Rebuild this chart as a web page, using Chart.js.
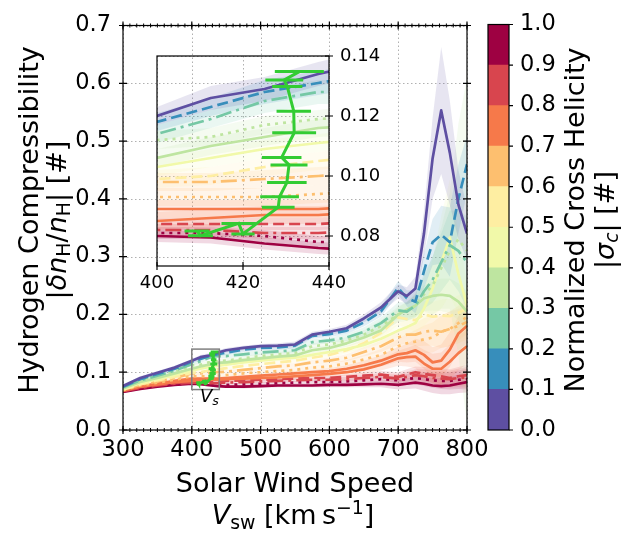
<!DOCTYPE html>
<html>
<head>
<meta charset="utf-8">
<script src="https://cdn.jsdelivr.net/npm/chart.js@4.4.0/dist/chart.umd.min.js"></script>
<style>
  body { margin: 0; background: #fff; font-family: "DejaVu Sans", sans-serif; }
  #wrap { position: relative; width: 623px; height: 535px; overflow: hidden; }
  canvas { position: absolute; left: 0; top: 0; }
  .lbl { position: absolute; white-space: nowrap; color: #000; font-size: 27px; line-height: 1; }
  .rot { transform: translate(-50%, -50%) rotate(-90deg); }
  .ctr { transform: translate(-50%, -50%); }
  .sub { font-size: 0.7em; vertical-align: -0.25em; }
  .sup { font-size: 0.7em; vertical-align: 0.5em; }
</style>
</head>
<body>
<div id="wrap">
  <canvas id="main" width="623" height="535"></canvas>
  <canvas id="inset" width="623" height="535"></canvas>
  <canvas id="cbar" width="623" height="535"></canvas>
  <div class="lbl rot" style="left:28px;top:220px">Hydrogen Compressibility</div>
  <div class="lbl rot" style="left:58px;top:220px">|<i>δn</i><span class="sub">H</span>/<i>n</i><span class="sub">H</span>| [#]</div>
  <div class="lbl ctr" style="left:295px;top:482px">Solar Wind Speed</div>
  <div class="lbl ctr" style="left:293px;top:515px"><i>V</i><span class="sub">sw</span> [km&#8201;s<span class="sup">−1</span>]</div>
  <div class="lbl rot" style="left:574px;top:220px">Normalized Cross Helicity</div>
  <div class="lbl rot" style="left:606px;top:220px">|<i>σ</i><span class="sub"><i>c</i></span>| [#]</div>
  <div class="lbl" style="left:200px;top:387px;font-size:18px"><i>V</i><span class="sub"><i>s</i></span></div>
</div>
<script>
// solar wind speed bins (km/s)
const speed = [300, 325, 350, 375, 400, 412.5, 425, 437.5, 450, 475, 500, 525, 550, 575, 600, 625, 650, 675, 700, 712.5, 725, 737.5, 750, 762.5, 775, 787.5, 800];

// compressibility per cross-helicity bin, lowest |sigma_c| first
const comp1 = [0.076,0.090,0.099,0.108,0.120,0.126,0.129,0.134,0.138,0.142,0.145,0.146,0.148,0.165,0.170,0.176,0.193,0.212,0.240,0.232,0.245,0.340,0.470,0.553,0.480,0.390,0.340];
const comp2 = [0.075,0.088,0.097,0.106,0.118,0.123,0.128,0.131,0.134,0.139,0.142,0.143,0.146,0.163,0.166,0.172,0.186,0.205,0.246,0.228,0.222,0.275,0.325,0.338,0.325,0.400,0.460];
const comp3 = [0.074,0.086,0.094,0.103,0.114,0.119,0.125,0.128,0.128,0.131,0.134,0.136,0.138,0.152,0.155,0.160,0.170,0.185,0.207,0.205,0.215,0.240,0.260,0.290,0.320,0.310,0.290];
const comp4 = [0.073,0.085,0.092,0.101,0.112,0.113,0.117,0.119,0.120,0.124,0.128,0.131,0.133,0.145,0.148,0.155,0.165,0.180,0.200,0.205,0.215,0.235,0.250,0.280,0.310,0.330,0.310];
const comp5 = [0.072,0.083,0.090,0.098,0.106,0.110,0.113,0.116,0.117,0.121,0.124,0.127,0.129,0.138,0.142,0.150,0.160,0.172,0.200,0.208,0.215,0.228,0.232,0.234,0.232,0.222,0.205];
const comp6 = [0.071,0.081,0.088,0.095,0.103,0.106,0.109,0.111,0.113,0.117,0.120,0.123,0.125,0.130,0.135,0.140,0.147,0.158,0.172,0.178,0.185,0.210,0.245,0.290,0.333,0.270,0.215];
const comp7 = [0.070,0.079,0.086,0.092,0.099,0.100,0.103,0.105,0.107,0.111,0.114,0.117,0.120,0.125,0.130,0.138,0.150,0.168,0.195,0.192,0.190,0.200,0.196,0.198,0.197,0.203,0.210];
const comp8 = [0.070,0.078,0.084,0.090,0.098,0.098,0.099,0.100,0.101,0.104,0.107,0.110,0.112,0.117,0.120,0.125,0.135,0.145,0.160,0.165,0.165,0.170,0.172,0.170,0.175,0.180,0.187];
const comp9 = [0.069,0.077,0.082,0.087,0.093,0.093,0.093,0.094,0.095,0.098,0.100,0.102,0.104,0.108,0.110,0.115,0.122,0.130,0.145,0.150,0.153,0.157,0.160,0.170,0.175,0.185,0.196];
const comp10 = [0.069,0.076,0.080,0.085,0.089,0.089,0.089,0.089,0.090,0.092,0.094,0.096,0.098,0.100,0.102,0.106,0.112,0.120,0.131,0.133,0.138,0.130,0.117,0.120,0.139,0.167,0.180];
const comp11 = [0.068,0.075,0.079,0.083,0.085,0.086,0.087,0.087,0.088,0.089,0.090,0.091,0.093,0.095,0.097,0.100,0.105,0.113,0.124,0.126,0.127,0.115,0.106,0.106,0.118,0.133,0.145];
const comp12 = [0.068,0.074,0.078,0.081,0.084,0.084,0.084,0.084,0.085,0.086,0.087,0.088,0.089,0.090,0.090,0.092,0.094,0.096,0.092,0.096,0.100,0.097,0.095,0.093,0.090,0.093,0.095];
const comp13 = [0.067,0.073,0.077,0.080,0.082,0.082,0.081,0.081,0.082,0.083,0.084,0.085,0.086,0.087,0.087,0.088,0.090,0.092,0.089,0.092,0.095,0.093,0.090,0.089,0.088,0.090,0.091];
const comp14 = [0.067,0.072,0.076,0.079,0.081,0.081,0.080,0.078,0.078,0.079,0.080,0.081,0.082,0.083,0.083,0.084,0.086,0.088,0.086,0.088,0.090,0.088,0.086,0.085,0.085,0.087,0.088];
const comp15 = [0.066,0.071,0.075,0.078,0.080,0.0795,0.0775,0.076,0.075,0.075,0.076,0.077,0.077,0.077,0.078,0.078,0.079,0.080,0.078,0.080,0.082,0.080,0.077,0.076,0.077,0.080,0.083];

// half-width of the shaded spread
const err1 = [0.003,0.003,0.003,0.003,0.003,0.004,0.004,0.004,0.004,0.004,0.004,0.004,0.005,0.005,0.005,0.006,0.007,0.009,0.012,0.015,0.020,0.040,0.070,0.110,0.090,0.060,0.045];
const err2 = [0.003,0.003,0.003,0.003,0.003,0.003,0.004,0.004,0.004,0.004,0.004,0.004,0.005,0.005,0.005,0.006,0.007,0.009,0.012,0.014,0.020,0.030,0.040,0.050,0.060,0.060,0.050];
const err3 = [0.003,0.003,0.003,0.003,0.003,0.003,0.004,0.004,0.004,0.004,0.004,0.004,0.005,0.005,0.005,0.006,0.008,0.010,0.014,0.016,0.020,0.030,0.040,0.050,0.060,0.070,0.080];
const err4 = [0.003,0.003,0.003,0.003,0.003,0.003,0.003,0.003,0.004,0.004,0.004,0.004,0.005,0.005,0.005,0.006,0.008,0.010,0.014,0.016,0.022,0.030,0.050,0.070,0.100,0.200,0.300];
const err5 = [0.003,0.003,0.003,0.003,0.003,0.003,0.003,0.003,0.003,0.004,0.004,0.004,0.004,0.005,0.005,0.006,0.007,0.009,0.012,0.014,0.018,0.022,0.025,0.028,0.030,0.032,0.035];
const err6 = [0.003,0.003,0.003,0.003,0.003,0.003,0.003,0.003,0.003,0.004,0.004,0.004,0.004,0.005,0.005,0.006,0.007,0.009,0.012,0.014,0.018,0.030,0.050,0.080,0.100,0.070,0.040];
const errMid = [0.002,0.002,0.002,0.002,0.003,0.003,0.003,0.003,0.003,0.003,0.003,0.004,0.004,0.004,0.005,0.006,0.008,0.010,0.013,0.016,0.020,0.024,0.026,0.028,0.030,0.030,0.030];
const errLow = [0.002,0.002,0.002,0.002,0.002,0.002,0.002,0.002,0.002,0.003,0.003,0.003,0.003,0.003,0.004,0.004,0.005,0.006,0.008,0.009,0.010,0.012,0.013,0.014,0.015,0.016,0.018];

// V_s points with speed error
const vsSpeed = [409.3, 410.1, 419.0, 420.0, 428.2, 428.5, 430.2, 430.7, 429.0, 431.9, 431.8, 430.3, 429.6, 433.1];
const vsComp = [0.0817, 0.0801, 0.0842, 0.0807, 0.0896, 0.0931, 0.0978, 0.1037, 0.1062, 0.1144, 0.1216, 0.1298, 0.1320, 0.1348];
const vsErr = [2.9, 2.9, 4.0, 2.7, 3.8, 4.5, 4.6, 4.3, 4.6, 5.1, 4.0, 3.5, 4.4, 5.7];

// colorbar
const cbarBounds = [0, 0.1, 0.2, 0.3, 0.4, 0.5, 0.6, 0.7, 0.8, 0.9, 1.0];
const cbarColors = ['#5e4fa2', '#378ebb', '#75c8a5', '#bee5a0', '#f1f9a9', '#feeea2', '#fdbf6f', '#f6794a', '#d8454e', '#9e0142'];

// axis ticks
const mainXTicks = [300, 400, 500, 600, 700, 800];
const mainYTicks = [0, 0.1, 0.2, 0.3, 0.4, 0.5, 0.6, 0.7];
const insetXTicks = [400, 420, 440];
const insetYTicks = [0.08, 0.10, 0.12, 0.14];
const zoomBox = { x: [400, 440], y: [0.07, 0.14] };

const series = [comp1, comp2, comp3, comp4, comp5, comp6, comp7, comp8, comp9, comp10, comp11, comp12, comp13, comp14, comp15];
const seriesErr = [err1, err2, err3, err4, err5, err6, errMid, errMid, errMid, errMid, errMid, errLow, errLow, errLow, errLow];
const seriesColors = ['#5e4fa2', '#378ebb', '#75c8a5', '#bee5a0', '#bee5a0', '#f1f9a9', '#feeea2', '#fdbf6f', '#fdbf6f', '#f6794a', '#f6794a', '#d8454e', '#d8454e', '#9e0142', '#9e0142'];
const seriesStyles = ['solid', 'dashed', 'dashdot', 'dotted', 'solid', 'solid', 'dashed', 'dashdot', 'dotted', 'solid', 'solid', 'dashed', 'dashdot', 'dotted', 'solid'];
const dashes = { solid: [], dashed: [11, 5], dashdot: [16, 5, 3, 5], dotted: [3, 5] };
const GREEN = '#33cc33';
const FONT = 'DejaVu Sans';

function rgba(hex, a) {
  const n = parseInt(hex.slice(1), 16);
  return `rgba(${n >> 16}, ${(n >> 8) & 255}, ${n & 255}, ${a})`;
}

function buildDatasets(lw) {
  const ds = [];
  series.forEach((vals, i) => {
    const e = seriesErr[i];
    ds.push({ data: speed.map((x, j) => ({ x, y: vals[j] + e[j] })), borderWidth: 0, pointRadius: 0, fill: false, order: 3 });
    ds.push({ data: speed.map((x, j) => ({ x, y: vals[j] - e[j] })), borderWidth: 0, pointRadius: 0, fill: '-1', backgroundColor: rgba(seriesColors[i], 0.15), order: 3 });
  });
  series.forEach((vals, i) => {
    ds.push({
      data: speed.map((x, j) => ({ x, y: vals[j] })),
      borderColor: seriesColors[i], borderWidth: lw, borderDash: dashes[seriesStyles[i]],
      borderJoinStyle: 'round', pointRadius: 0, fill: false, tension: 0, order: 2
    });
  });
  ds.push({
    data: vsSpeed.map((x, j) => ({ x, y: vsComp[j] })),
    borderColor: GREEN, borderWidth: 3, pointRadius: 0, fill: false, tension: 0, order: 1, vsErr: true
  });
  return ds;
}

function tickMarks(ctx, a, scale, values, side, out, inn) {
  ctx.beginPath();
  values.forEach(v => {
    const p = scale.getPixelForValue(v);
    if (side === 'left') { ctx.moveTo(a.left - out, p); ctx.lineTo(a.left + inn, p); }
    if (side === 'right') { ctx.moveTo(a.right - inn, p); ctx.lineTo(a.right + out, p); }
    if (side === 'bottom') { ctx.moveTo(p, a.bottom + out); ctx.lineTo(p, a.bottom - inn); }
    if (side === 'top') { ctx.moveTo(p, a.top - out); ctx.lineTo(p, a.top + inn); }
  });
  ctx.stroke();
}

function drawGrid(chart, xs, ys) {
  const { ctx, chartArea: a, scales: { x, y } } = chart;
  ctx.save();
  ctx.strokeStyle = '#b0b0b0';
  ctx.lineWidth = 1;
  ctx.setLineDash([1.5, 2.5]);
  ctx.beginPath();
  xs.forEach(v => { const p = Math.round(x.getPixelForValue(v)) + 0.5; ctx.moveTo(p, a.top); ctx.lineTo(p, a.bottom); });
  ys.forEach(v => { const p = Math.round(y.getPixelForValue(v)) + 0.5; ctx.moveTo(a.left, p); ctx.lineTo(a.right, p); });
  ctx.stroke();
  ctx.restore();
}

function drawErrorBars(chart) {
  const { ctx, chartArea: a, scales: { x } } = chart;
  chart.data.datasets.forEach((d, i) => {
    if (!d.vsErr) return;
    const meta = chart.getDatasetMeta(i);
    ctx.save();
    ctx.beginPath();
    ctx.rect(a.left, a.top, a.right - a.left, a.bottom - a.top);
    ctx.clip();
    ctx.strokeStyle = GREEN;
    ctx.lineWidth = 3;
    ctx.beginPath();
    meta.data.forEach((pt, j) => {
      ctx.moveTo(x.getPixelForValue(vsSpeed[j] - vsErr[j]), pt.y);
      ctx.lineTo(x.getPixelForValue(vsSpeed[j] + vsErr[j]), pt.y);
    });
    ctx.stroke();
    ctx.restore();
  });
}

const minorX = [];
for (let v = 300; v <= 800; v += 10) minorX.push(v);

const mainDecor = {
  id: 'mainDecor',
  beforeDatasetsDraw(chart) { drawGrid(chart, mainXTicks, mainYTicks); },
  afterDatasetsDraw(chart) {
    const { ctx, chartArea: a, scales: { x, y } } = chart;
    drawErrorBars(chart);
    ctx.save();
    ctx.strokeStyle = '#808080';
    ctx.lineWidth = 1.5;
    const bx = x.getPixelForValue(zoomBox.x[0]), by = y.getPixelForValue(zoomBox.y[1]);
    ctx.strokeRect(bx, by, x.getPixelForValue(zoomBox.x[1]) - bx, y.getPixelForValue(zoomBox.y[0]) - by);
    ctx.strokeStyle = '#000';
    ctx.lineWidth = 1.2;
    ctx.strokeRect(a.left, a.top, a.right - a.left, a.bottom - a.top);
    tickMarks(ctx, a, y, mainYTicks, 'left', 4, 4);
    tickMarks(ctx, a, y, mainYTicks, 'right', 4, 4);
    tickMarks(ctx, a, x, mainXTicks, 'bottom', 4, 4);
    tickMarks(ctx, a, x, mainXTicks, 'top', 4, 4);
    ctx.lineWidth = 1;
    tickMarks(ctx, a, x, minorX, 'bottom', 2, 2);
    tickMarks(ctx, a, x, minorX, 'top', 2, 2);
    ctx.restore();
  }
};

const insetDecor = {
  id: 'insetDecor',
  beforeDatasetsDraw(chart) { drawGrid(chart, insetXTicks, insetYTicks); },
  afterDatasetsDraw(chart) {
    const { ctx, chartArea: a, scales: { x, y } } = chart;
    drawErrorBars(chart);
    ctx.save();
    ctx.strokeStyle = '#000';
    ctx.lineWidth = 1.2;
    ctx.strokeRect(a.left, a.top, a.right - a.left, a.bottom - a.top);
    tickMarks(ctx, a, y, insetYTicks, 'right', 4, 4);
    tickMarks(ctx, a, x, insetXTicks, 'bottom', 4, 4);
    ctx.restore();
  }
};

const cbarDecor = {
  id: 'cbarDecor',
  afterDatasetsDraw(chart) {
    const { ctx, chartArea: a, scales: { y } } = chart;
    ctx.save();
    ctx.strokeStyle = '#000';
    ctx.lineWidth = 1.2;
    ctx.strokeRect(a.left, a.top, a.right - a.left, a.bottom - a.top);
    tickMarks(ctx, a, y, cbarBounds, 'right', 4, 0);
    ctx.restore();
  }
};

const fixTicks = list => scale => { scale.ticks = list.map(v => ({ value: v })); };
const noPlugins = { legend: { display: false }, tooltip: { enabled: false } };

new Chart(document.getElementById('main'), {
  type: 'line',
  data: { datasets: buildDatasets(2.7) },
  options: {
    responsive: false, animation: false, events: [],
    layout: { autoPadding: false, padding: { left: 0, top: 11, right: 156, bottom: 0 } },
    plugins: noPlugins,
    scales: {
      x: {
        type: 'linear', min: 300, max: 800,
        afterBuildTicks: fixTicks(mainXTicks), afterFit: s => { s.height = 105; },
        grid: { display: false, drawTicks: false }, border: { display: false },
        ticks: { padding: 7, color: '#000', font: { family: FONT, size: 22.5 }, maxRotation: 0, callback: v => String(v) }
      },
      y: {
        min: 0, max: 0.7,
        afterBuildTicks: fixTicks(mainYTicks), afterFit: s => { s.width = 123; },
        grid: { display: false, drawTicks: false }, border: { display: false },
        ticks: { padding: 12, color: '#000', font: { family: FONT, size: 22.5 }, callback: v => v.toFixed(1) }
      }
    }
  },
  plugins: [mainDecor]
});

new Chart(document.getElementById('inset'), {
  type: 'line',
  data: { datasets: buildDatasets(2.7) },
  options: {
    responsive: false, animation: false, events: [],
    layout: { autoPadding: false, padding: { left: 157, top: 56, right: 0, bottom: 0 } },
    plugins: noPlugins,
    scales: {
      x: {
        type: 'linear', min: 400, max: 440,
        afterBuildTicks: fixTicks(insetXTicks), afterFit: s => { s.height = 269; },
        grid: { display: false, drawTicks: false }, border: { display: false },
        ticks: { padding: 7, color: '#000', font: { family: FONT, size: 18 }, maxRotation: 0, callback: v => String(v) }
      },
      y: {
        position: 'right', min: 0.07, max: 0.14,
        afterBuildTicks: fixTicks(insetYTicks), afterFit: s => { s.width = 294; },
        grid: { display: false, drawTicks: false }, border: { display: false },
        ticks: { padding: 11, color: '#000', font: { family: FONT, size: 18 }, callback: v => v.toFixed(2) }
      }
    }
  },
  plugins: [insetDecor]
});

new Chart(document.getElementById('cbar'), {
  type: 'bar',
  data: {
    labels: [''],
    datasets: cbarColors.map((c, i) => ({
      data: [[cbarBounds[i], cbarBounds[i + 1]]], backgroundColor: c, borderWidth: 0,
      barPercentage: 1, categoryPercentage: 1, grouped: false
    }))
  },
  options: {
    responsive: false, animation: false, events: [],
    layout: { autoPadding: false, padding: { left: 488, top: 11, right: 0, bottom: 105 } },
    plugins: noPlugins,
    scales: {
      x: { display: false },
      y: {
        position: 'right', min: 0, max: 1,
        afterBuildTicks: fixTicks(cbarBounds), afterFit: s => { s.width = 114; },
        grid: { display: false, drawTicks: false }, border: { display: false },
        ticks: { padding: 11, color: '#000', font: { family: FONT, size: 22.5 }, callback: v => v.toFixed(1) }
      }
    }
  },
  plugins: [cbarDecor]
});
</script>
</body>
</html>
